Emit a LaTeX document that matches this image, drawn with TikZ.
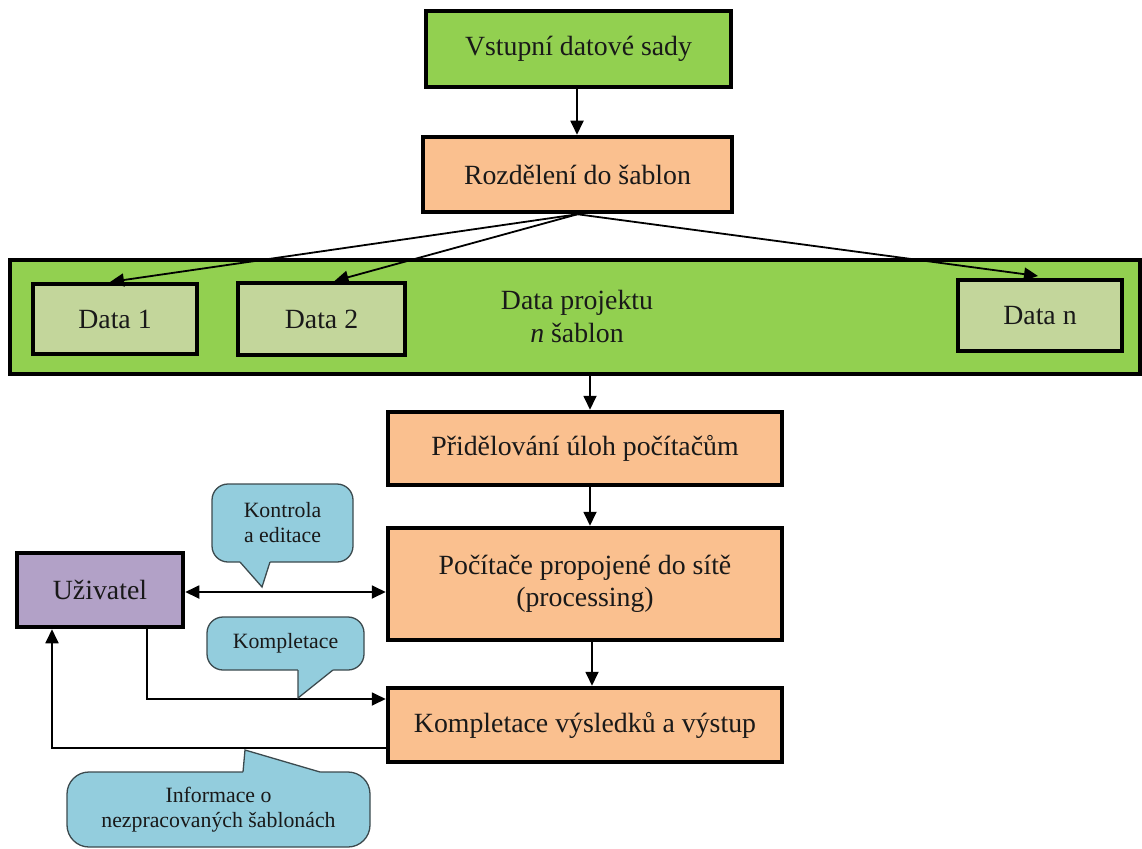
\documentclass[tikz,border=0pt]{standalone}
\usepackage{fontspec}
\setmainfont{Liberation Serif}
\usetikzlibrary{arrows.meta}
\definecolor{grn}{HTML}{92D050}
\definecolor{peach}{HTML}{FAC08F}
\definecolor{lgrn}{HTML}{C3D69B}
\definecolor{lila}{HTML}{B2A1C7}
\definecolor{sky}{HTML}{93CDDD}
\definecolor{cline}{HTML}{3C4A4E}
\tikzset{
  label/.style={align=center, inner sep=0pt, text=black!90,
    font=\fontsize{27.8}{32}\selectfont},
  box/.style={label, draw=black, line width=4.5pt},
  databox/.style={box, fill=lgrn, line width=4pt},
  conn/.style={line width=1.8pt, -{Triangle[length=14pt,width=13pt]}},
  biconn/.style={line width=1.8pt, {Triangle[length=14pt,width=13pt]}-{Triangle[length=14pt,width=13pt]}},
  callout/.style={draw=cline, fill=sky, line width=1.3pt, rounded corners=16pt,
    align=center, inner sep=0pt, text=black!90, font=\fontsize{21.8}{25}\selectfont},
  ptrfill/.style={fill=sky},
  ptrline/.style={draw=cline, line width=1.3pt, line join=miter},
}
\begin{document}
\begin{tikzpicture}[x=1pt, y=-1pt]
\useasboundingbox (0,0) rectangle (1142,848);

% main flow boxes
\node[box, fill=grn, minimum width=305pt, minimum height=76pt] (in) at (578.5,49) {Vstupní datové sady};
\node[box, fill=peach, minimum width=309pt, minimum height=75pt] (split) at (577.5,174.5) {Rozdělení do šablon};

% project data container with the template boxes
\node[box, fill=grn, minimum width=1130pt, minimum height=114pt] (proj) at (575,317) {};
\node[label, font=\fontsize{27.8}{33}\selectfont] (projtxt) at (577,316) {Data projektu\\\textit{n} šablon};
\node[databox, minimum width=164pt, minimum height=70pt] (d1) at (115,319) {Data 1};
\node[databox, minimum width=167pt, minimum height=72pt] (d2) at (321.5,319) {Data 2};
\node[databox, minimum width=164pt, minimum height=71pt] (dn) at (1040,315.5) {Data n};

\node[box, fill=peach, minimum width=394pt, minimum height=73pt] (assign) at (585,448.5) {Přidělování úloh počítačům};
\node[box, fill=peach, minimum width=394pt, minimum height=112pt] (proc) at (585,584) {Počítače propojené do sítě\\(processing)};
\node[box, fill=peach, minimum width=394pt, minimum height=74pt] (out) at (585,725) {Kompletace výsledků a výstup};
\node[box, fill=lila, minimum width=166pt, minimum height=74pt] (user) at (100,590) {Uživatel};

% connectors
\draw[conn] ([xshift=-1.5pt]in.south) -- ([xshift=-0.5pt]split.north);
\draw[conn] (split.south) -- ([xshift=-5pt]d1.north);
\draw[conn] (split.south) -- ([xshift=13pt]d2.north);
\draw[conn] (split.south) -- ([xshift=-2pt,yshift=2pt]dn.north);
\draw[conn] ([xshift=5pt]assign.north |- proj.south) -- ([xshift=5pt]assign.north);
\draw[conn] ([xshift=5pt]assign.south) -- ([xshift=5pt]proc.north);
\draw[conn] ([xshift=7pt]proc.south) -- ([xshift=7pt]out.north);
\draw[biconn] ([yshift=-2pt]user.east) -- ([yshift=-2pt]user.east -| proc.west);
\draw[conn] ([xshift=47pt]user.south) |- ([yshift=26pt]out.west);
\draw[conn] ([yshift=-23pt]out.west) -| ([xshift=-48pt]user.south);

% callouts: rounded body, then the pointer painted over its border
\node[callout, minimum width=141pt, minimum height=78pt] (c1) at (282.5,523) {Kontrola\\a editace};
\fill[ptrfill] (240,562) -- (262,587) -- (270,562) -- (270,556) -- (240,556) -- cycle;
\draw[ptrline] (240,562) -- (262,587) -- (270,562);

\node[callout, minimum width=157pt, minimum height=53pt] (c2) at (285.5,643.5) {Kompletace};
\fill[ptrfill] (298,670) -- (298,698) -- (333,670) -- (333,664) -- (298,664) -- cycle;
\draw[ptrline] (298,670) -- (298,698) -- (333,670);

\node[callout, rounded corners=22pt, minimum width=303pt, minimum height=75pt] (c3) at (218.5,809.5) {Informace o\\nezpracovaných šablonách};
\fill[ptrfill] (243,772) -- (245,750) -- (320,772) -- (320,778) -- (243,778) -- cycle;
\draw[ptrline] (243,772) -- (245,750) -- (320,772);
\end{tikzpicture}
\end{document}
